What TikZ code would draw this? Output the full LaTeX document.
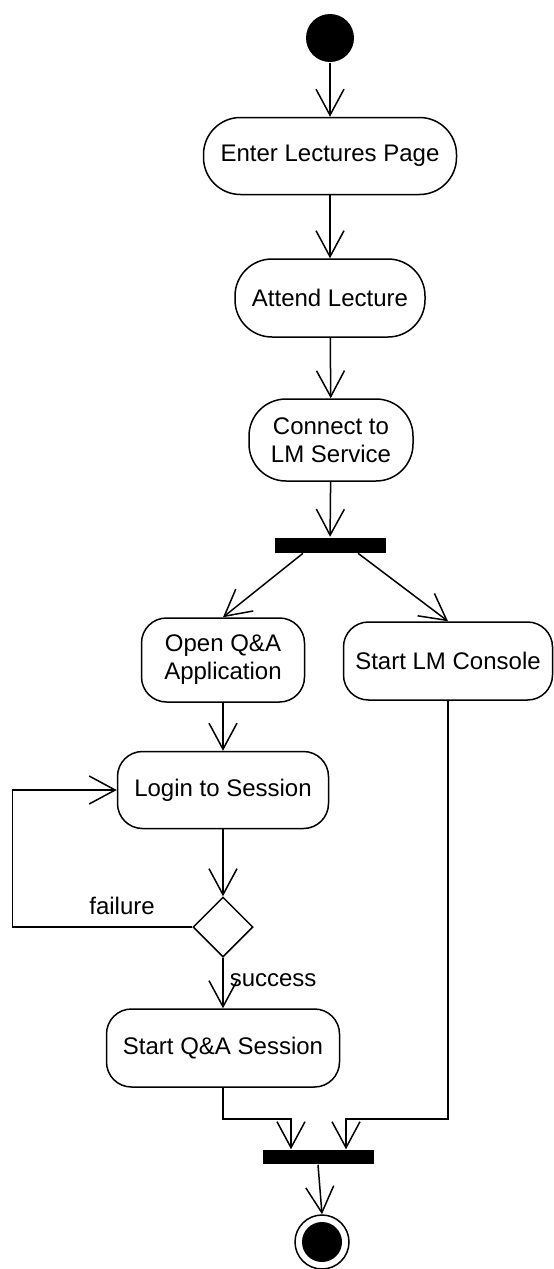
\documentclass[tikz,border=0pt]{standalone}
\usepackage{fontspec}
\setmainfont{Liberation Sans}
\usetikzlibrary{arrows.meta}
\usetikzlibrary{shapes.geometric}

\begin{document}
\begin{tikzpicture}[x=1pt,y=-1pt,line width=1.5pt,
    every node/.style={font=\fontsize{24}{28}\selectfont},
    stadium/.style={rectangle,draw,rounded corners=37pt,align=center,inner sep=0pt},
    action/.style={rectangle,draw,rounded corners=25pt,align=center,inner sep=0pt},
    bar/.style={rectangle,fill=black,inner sep=0pt,minimum height=15pt,minimum width=111pt},
    flow/.style={-{Straight Barb[length=26pt,width=28pt]}},
    guard/.style={inner sep=2pt}]

            %\draw [help lines] (0,0) grid (554,1269);
            \useasboundingbox (0,0) rectangle (554,1269);

            \path   (330,38)   node (start) [circle,fill=black,inner sep=0pt,minimum size=48pt] {}
                    (330,156)  node (enter) [stadium,minimum width=253pt,minimum height=77pt] {Enter Lectures Page}
                    (330,298)  node (attend) [stadium,minimum width=190pt,minimum height=78pt] {Attend Lecture}
                    (331,440)  node (connect) [stadium,minimum width=164pt,minimum height=82pt] {Connect to\\LM Service}
                    (330,545)  node (fork) [bar] {}
                    (223,660)  node (openqa) [action,minimum width=163pt,minimum height=84pt] {Open Q\&A\\Application}
                    (448,661)  node (console) [action,minimum width=209pt,minimum height=78pt] {Start LM Console}
                    (223,790)  node (login) [action,minimum width=211pt,minimum height=77pt] {Login to Session}
                    (223,927)  node (decide) [diamond,draw,aspect=1,inner sep=0pt,minimum size=60pt] {}
                    (223,1048) node (startqa) [action,minimum width=233pt,minimum height=78pt] {Start Q\&A Session}
                    (318,1157) node (join) [bar,minimum height=14pt] {}
                    (322,1242) node (final) [circle,draw,inner sep=0pt,minimum size=54pt,
                        path picture={\fill (path picture bounding box.center) circle (20pt);}] {};

            \draw[flow] (start) -- (enter);
            \draw[flow] (enter) -- (attend);
            \draw[flow] (attend) -- (connect);
            \draw[flow] (connect) -- (fork);
            \draw[flow] ([xshift=-27pt]fork.south) -- (openqa.north);
            \draw[flow] ([xshift=28pt]fork.south) -- (console.north);
            \draw[flow] (openqa) -- (login);
            \draw[flow] (login) -- (decide);
            \draw[flow] (decide.west) -- node[guard,above=10pt,pos=0.39] {failure} ++(-180,0) |- (login.west);
            \draw[flow] (decide.south) -- node[guard,right=4pt,pos=0.45] {success} (startqa.north);
            \draw[flow] (startqa.south) -- ++(0,31) -| ([xshift=-27pt]join.north);
            \draw[flow] (console.south) -- ++(0,418) -| ([xshift=28pt]join.north);
            \draw[flow] (join.south) -- (final.north);
        \end{tikzpicture}
\end{document}
